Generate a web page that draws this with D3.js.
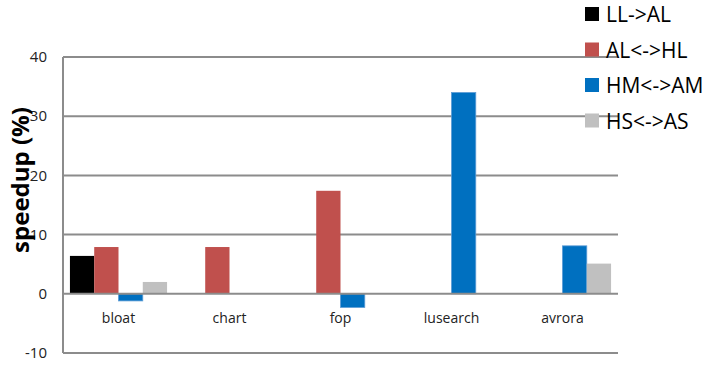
<!DOCTYPE html>
<html>
<head>
<meta charset="utf-8">
<script src="https://cdn.jsdelivr.net/npm/d3@7"></script>
<style>
  body { margin: 0; background: #fff; }
  svg { display: block; font-family: "Open Sans", sans-serif; }
</style>
</head>
<body>
<svg id="chart" width="708" height="366"></svg>
<script>
// data
const benchmarks = ["bloat", "chart", "fop", "lusearch", "avrora"];
const seriesNames = ["LL->AL", "AL<->HL", "HM<->AM", "HS<->AS"];
const seriesColors = ["#000000", "#C0504D", "#0070C0", "#C0C0C0"];
const llAl = [6.4, 0, 0, 0, 0];
const alHl = [7.9, 7.9, 17.4, 0, 0];
const hmAm = [-1.2, 0, -2.3, 34.0, 8.1];
const hsAs = [2.0, 0, 0, 0, 5.1];
const yTicks = [-10, 0, 10, 20, 30, 40];

const seriesValues = [llAl, alHl, hmAm, hsAs];

const svg = d3.select("#chart");
const margin = {left: 63, right: 90, top: 57, bottom: 13};
const width = 708, height = 366;

const x = d3.scaleBand()
    .domain(benchmarks)
    .range([margin.left, width - margin.right])
    .paddingInner(0.125)
    .paddingOuter(0.0625);

const x1 = d3.scaleBand()
    .domain(d3.range(seriesNames.length))
    .range([0, x.bandwidth()]);

const y = d3.scaleLinear()
    .domain([-10, 40])
    .range([height - margin.bottom, margin.top]);

// gridlines
svg.append("g")
    .selectAll("line")
    .data(yTicks.filter(d => d !== 0 && d !== -10))
    .join("line")
    .attr("x1", margin.left)
    .attr("x2", width - margin.right)
    .attr("y1", d => y(d))
    .attr("y2", d => y(d))
    .attr("stroke", "#8c8c8c")
    .attr("stroke-width", 2);

// tick labels
svg.append("g")
    .selectAll("text")
    .data(yTicks)
    .join("text")
    .attr("x", 47)
    .attr("y", d => y(d))
    .attr("dy", "0.35em")
    .attr("text-anchor", "end")
    .attr("font-size", 15)
    .attr("fill", "#222")
    .text(d => d);

// bars
const rows = [];
benchmarks.forEach((b, i) => {
  seriesValues.forEach((vals, s) => {
    if (vals[i] !== 0) rows.push({b, s, v: vals[i]});
  });
});

svg.append("g")
    .selectAll("rect")
    .data(rows)
    .join("rect")
    .attr("x", d => x(d.b) + x1(d.s))
    .attr("width", x1.bandwidth())
    .attr("y", d => y(Math.max(0, d.v)))
    .attr("height", d => Math.abs(y(d.v) - y(0)))
    .attr("fill", d => seriesColors[d.s])
    .attr("stroke", d => d.s === 2 ? "#5b9bd5" : "none")
    .attr("stroke-width", 0.8);

// frame: left axis, zero line, bottom line
svg.append("line")
    .attr("x1", margin.left).attr("x2", margin.left)
    .attr("y1", y(40)).attr("y2", y(-10))
    .attr("stroke", "#8c8c8c").attr("stroke-width", 2);
svg.append("line")
    .attr("x1", margin.left).attr("x2", width - margin.right)
    .attr("y1", y(0)).attr("y2", y(0))
    .attr("stroke", "#8c8c8c").attr("stroke-width", 2);
svg.append("line")
    .attr("x1", margin.left).attr("x2", width - margin.right)
    .attr("y1", y(-10)).attr("y2", y(-10))
    .attr("stroke", "#8c8c8c").attr("stroke-width", 2);

// category labels
svg.append("g")
    .selectAll("text")
    .data(benchmarks)
    .join("text")
    .attr("x", d => x(d) + x.bandwidth() / 2)
    .attr("y", y(0) + 29)
    .attr("text-anchor", "middle")
    .attr("font-size", 14)
    .attr("fill", "#222")
    .text(d => d);

// y title
svg.append("text")
    .attr("transform", "translate(29,180) rotate(-90)")
    .attr("text-anchor", "middle")
    .attr("font-size", 24)
    .attr("font-weight", "bold")
    .attr("fill", "#000")
    .text("speedup (%)");

// legend
const legend = svg.append("g")
    .selectAll("g")
    .data(seriesNames)
    .join("g")
    .attr("transform", (d, i) => `translate(585,${14 + i * 35.5})`);

legend.append("rect")
    .attr("x", 0).attr("y", -7)
    .attr("width", 14).attr("height", 14)
    .attr("fill", (d, i) => seriesColors[i]);

legend.append("text")
    .attr("x", 21)
    .attr("y", 1)
    .attr("dy", "0.35em")
    .attr("font-size", 21)
    .attr("fill", "#000")
    .text(d => d);
</script>
</body>
</html>
